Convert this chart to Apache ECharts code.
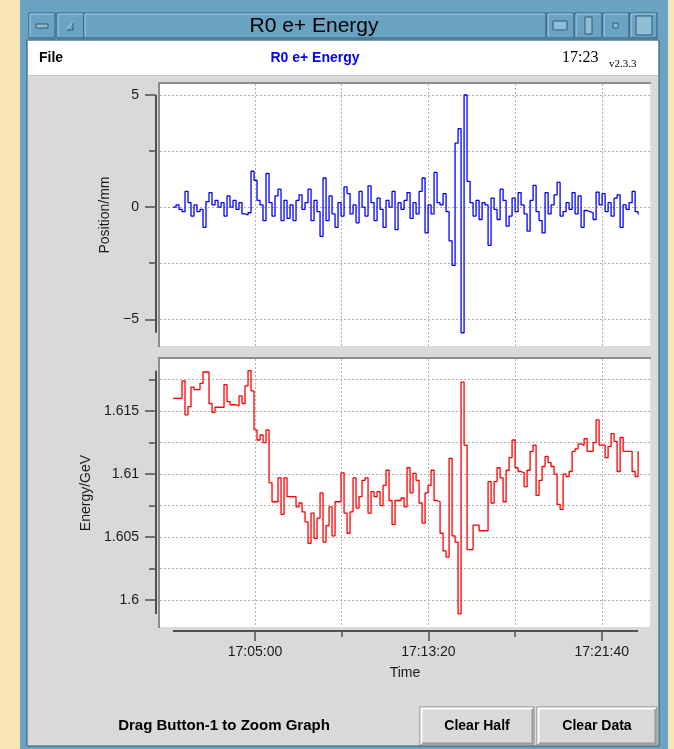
<!DOCTYPE html>
<html><head><meta charset="utf-8">
<script src="https://cdn.jsdelivr.net/npm/echarts@6/dist/echarts.min.js"></script>
<style>html,body{margin:0;padding:0;background:#f7e6b5;}#c{width:674px;height:749px;}</style>
</head><body><div id="c"></div>
<script>
// ---- data (time in seconds after 17:00:00, regular sampling) ----
const T_START = 63.5;
const T_STEP = 8.653;
const positionMM = [
 0.0,0.1,-0.1,-0.2,0.7,0.2,-0.4,0.1,-0.2,-0.1,
 -0.9,0.25,0.65,0.1,0.3,0.0,0.2,-0.4,0.5,0.0,
 0.3,-0.1,0.2,-0.3,-0.35,-0.25,1.6,1.2,0.3,0.1,
 -0.6,1.5,0.2,-0.4,0.5,0.8,-0.6,0.3,-0.5,0.1,
 -0.6,0.3,0.55,-0.1,0.2,0.8,-0.6,0.3,-0.2,-1.3,
 1.3,-0.6,0.5,-0.3,-0.9,0.2,-0.4,0.9,0.6,-0.3,
 0.1,-0.7,0.7,0.0,-0.4,0.95,0.2,-0.6,0.4,-0.1,
 -0.9,0.3,0.0,0.7,-1.0,0.2,-0.1,0.3,0.65,-0.5,
 0.2,-0.3,0.7,1.3,-1.15,0.1,-0.3,1.55,0.2,0.1,
 0.6,-0.2,-1.5,-2.6,2.85,3.5,-5.6,5.0,1.15,0.2,
 -0.4,0.3,-0.55,0.2,0.1,-1.7,0.4,-0.1,-0.55,0.8,
 0.3,-0.85,-0.4,0.4,-0.2,0.65,0.1,-0.3,-1.07,0.3,
 0.97,-0.2,-0.6,-1.15,0.65,-0.3,0.1,0.55,1.1,-0.4,
 -0.2,0.2,-0.1,0.65,-0.3,0.5,-0.9,-0.15,-0.2,-0.25,
 -0.55,0.67,0.1,0.6,-0.2,0.2,-0.4,0.4,0.55,-0.9,
 0.1,-0.1,0.2,0.7,-0.2,-0.33];
const energyGeV = [
 1.6160,1.6160,1.6160,1.6174,1.6147,1.61535,1.6169,1.6167,1.6167,1.6172,
 1.6181,1.6181,1.6156,1.6149,1.6153,1.6153,1.6153,1.6171,1.61575,1.6155,
 1.6155,1.6154,1.6162,1.6156,1.6170,1.6182,1.6166,1.6135,1.6127,1.6131,
 1.6125,1.6135,1.6093,1.6078,1.6078,1.6097,1.6068,1.6097,1.6082,1.6082,
 1.6082,1.6074,1.6077,1.6070,1.6062,1.6045,1.6069,1.6049,1.6065,1.6085,
 1.6046,1.6059,1.6074,1.6051,1.6078,1.6078,1.6101,1.6069,1.6053,1.6070,
 1.6097,1.6073,1.6082,1.6095,1.6097,1.6069,1.6086,1.6082,1.6086,1.6075,
 1.6091,1.6103,1.6079,1.6060,1.6079,1.6079,1.6081,1.6074,1.6105,1.6085,
 1.61005,1.6095,1.6077,1.6061,1.6085,1.6091,1.6103,1.6079,1.6078,1.6053,
 1.6039,1.6034,1.61125,1.6051,1.6046,1.5989,1.6173,1.6123,1.6040,1.6040,
 1.60595,1.60595,1.6055,1.6055,1.6055,1.6094,1.6077,1.6094,1.6105,1.6097,
 1.6078,1.6103,1.6113,1.6127,1.6105,1.6102,1.6101,1.6090,1.6103,1.6118,
 1.6123,1.6083,1.6095,1.6106,1.6114,1.6109,1.6106,1.6100,1.6076,1.6072,
 1.6100,1.6098,1.6102,1.6118,1.6120,1.6124,1.6123,1.6128,1.6118,1.6118,
 1.6125,1.6143,1.6123,1.6123,1.6113,1.6122,1.6132,1.6126,1.6102,1.6129,
 1.6118,1.6118,1.6118,1.6102,1.6098,1.6118];
const timeTicksMajor = [300, 800, 1300];
const timeTicksMinor = [550, 1050];
const posTicksMajor = [-5, 0, 5];
const posTicksMinor = [-2.5, 2.5];
const energyTicksMajor = [1.6, 1.605, 1.61, 1.615];
const energyTicksMinor = [1.6025, 1.6075, 1.6125, 1.6175];

// ---- layout constants ----
const X_MIN = 26, X_MAX = 1439;
const POS_MIN = -6.19, POS_MAX = 5.49;
const EN_MIN = 1.59786, EN_MAX = 1.61913;
const FONT = '"Liberation Sans", Arial, sans-serif';
const AX = '#505050';

function hms(s) {
  const t = 17 * 3600 + Math.round(s);
  const h = Math.floor(t / 3600), m = Math.floor((t % 3600) / 60), sec = t % 60;
  const p = n => (n < 10 ? '0' : '') + n;
  return h + ':' + p(m) + ':' + p(sec);
}
const toXY = arr => arr.map((v, i) => [T_START + i * T_STEP, v]);

const grid = [
  { left: 160, top: 84, width: 490, height: 262 },
  { left: 160, top: 359, width: 490, height: 268 }
];
const splitLine = { show: true, lineStyle: { color: '#b0b0b0', width: 1, type: [2, 2] } };
const labelStyle = { fontSize: 14, color: '#1a1a1a', fontFamily: FONT };

const xAxis = [
  { gridIndex: 0, type: 'value', min: X_MIN, max: X_MAX, position: 'bottom',
    axisLine: { show: false }, axisLabel: { show: false },
    axisTick: { show: false, customValues: timeTicksMajor.concat(timeTicksMinor) },
    splitLine: splitLine },
  { gridIndex: 1, type: 'value', min: X_MIN, max: X_MAX, position: 'bottom', offset: 4,
    axisLine: { show: false },
    axisTick: { show: true, length: 10, customValues: timeTicksMajor, lineStyle: { color: AX, width: 1.5 } },
    axisLabel: Object.assign({ customValues: timeTicksMajor, margin: 14, formatter: v => hms(v) }, labelStyle),
    splitLine: splitLine,
    name: 'Time', nameLocation: 'middle', nameGap: 35,
    nameTextStyle: { fontSize: 14, color: '#1a1a1a', fontFamily: FONT } },
  { gridIndex: 1, type: 'value', min: X_MIN, max: X_MAX, position: 'bottom', offset: 4,
    axisLine: { show: false }, axisLabel: { show: false },
    axisTick: { show: true, length: 6, customValues: timeTicksMinor, lineStyle: { color: AX, width: 1.5 } },
    splitLine: splitLine }
];
const minus = v => String(v).replace('-', '\u2212');
const yAxis = [
  { gridIndex: 0, type: 'value', min: POS_MIN, max: POS_MAX, position: 'left', offset: 4,
    axisLine: { show: false },
    axisTick: { show: true, length: 11, customValues: posTicksMajor, lineStyle: { color: AX, width: 1.5 } },
    axisLabel: Object.assign({ customValues: posTicksMajor, margin: 17, formatter: minus }, labelStyle),
    splitLine: splitLine,
    name: 'Position/mm', nameLocation: 'middle', nameGap: 44, nameRotate: 90,
    nameTextStyle: { fontSize: 14, color: '#1a1a1a', fontFamily: FONT } },
  { gridIndex: 0, type: 'value', min: POS_MIN, max: POS_MAX, position: 'left', offset: 4,
    axisLine: { show: false }, axisLabel: { show: false },
    axisTick: { show: true, length: 7, customValues: posTicksMinor, lineStyle: { color: AX, width: 1.5 } },
    splitLine: splitLine },
  { gridIndex: 1, type: 'value', min: EN_MIN, max: EN_MAX, position: 'left', offset: 4,
    axisLine: { show: false },
    axisTick: { show: true, length: 11, customValues: energyTicksMajor, lineStyle: { color: AX, width: 1.5 } },
    axisLabel: Object.assign({ customValues: energyTicksMajor, margin: 17 }, labelStyle),
    splitLine: splitLine,
    name: 'Energy/GeV', nameLocation: 'middle', nameGap: 63, nameRotate: 90,
    nameTextStyle: { fontSize: 14, color: '#1a1a1a', fontFamily: FONT } },
  { gridIndex: 1, type: 'value', min: EN_MIN, max: EN_MAX, position: 'left', offset: 4,
    axisLine: { show: false }, axisLabel: { show: false },
    axisTick: { show: true, length: 7, customValues: energyTicksMinor, lineStyle: { color: AX, width: 1.5 } },
    splitLine: splitLine }
];

// range-frame axis lines, spanning the data extent
function frame(xIdx, yIdx, values, yMin, drawX) {
  return {
    type: 'custom', xAxisIndex: xIdx, yAxisIndex: yIdx, silent: true, clip: false, z: 5,
    data: [[X_MIN, yMin]],
    renderItem: function (params, api) {
      const lo = Math.min.apply(null, values), hi = Math.max.apply(null, values);
      const a = api.coord([X_MIN, lo]), b = api.coord([X_MIN, hi]);
      const st = { stroke: AX, lineWidth: 2 };
      const ch = [{ type: 'line', shape: { x1: a[0] - 4, y1: a[1], x2: b[0] - 4, y2: b[1] }, style: st }];
      if (drawX) {
        const t1 = T_START + (values.length - 1) * T_STEP;
        const c = api.coord([T_START, yMin]), d = api.coord([t1, yMin]);
        ch.push({ type: 'line', shape: { x1: c[0], y1: c[1] + 4, x2: d[0], y2: d[1] + 4 }, style: st });
      }
      return { type: 'group', children: ch };
    }
  };
}

// ---- window chrome ----
const BLUE = '#6ba3c3', BLUE_D = '#2e5a74', BLUE_L = '#a8d0e6';
function box(x, y, w, h) {
  return [
    { type: 'rect', z: -8, shape: { x: x, y: y, width: w, height: h }, style: { fill: BLUE, stroke: BLUE_D, lineWidth: 1 } },
    { type: 'polyline', z: -7, shape: { points: [[x + 1, y + h - 1], [x + 1, y + 1], [x + w - 1, y + 1]] }, style: { stroke: BLUE_L, lineWidth: 1, fill: null } }
  ];
}
function icon(x, y, w, h) {
  return { type: 'rect', z: -6, shape: { x: x, y: y, width: w, height: h }, style: { fill: '#8fbdd6', stroke: BLUE_D, lineWidth: 1 } };
}
function button(x, y, w, h, label) {
  return [
    { type: 'rect', z: -8, shape: { x: x, y: y, width: w, height: h }, style: { fill: '#d9d9d9', stroke: '#8a8a8a', lineWidth: 1 } },
    { type: 'polyline', z: -7, shape: { points: [[x + 1.5, y + h - 1], [x + 1.5, y + 1.5], [x + w - 1, y + 1.5]] }, style: { stroke: '#ffffff', lineWidth: 2, fill: null } },
    { type: 'polyline', z: -7, shape: { points: [[x + 2, y + h - 1.5], [x + w - 1.5, y + h - 1.5], [x + w - 1.5, y + 2]] }, style: { stroke: '#9a9a9a', lineWidth: 2, fill: null } },
    { type: 'text', z: -6, style: { text: label, x: x + w / 2, y: y + h / 2, align: 'center', verticalAlign: 'middle', textAlign: 'center', textVerticalAlign: 'middle', font: 'bold 14px ' + FONT, fill: '#000' } }
  ];
}
function txt(text, x, y, font, fill, align) {
  return { type: 'text', z: -6, style: { text: text, x: x, y: y, font: font, fill: fill || '#000',
    align: align || 'left', textAlign: align || 'left', verticalAlign: 'middle', textVerticalAlign: 'middle' } };
}

const graphics = [].concat(
  [
    { type: 'rect', z: -20, shape: { x: 20, y: 0, width: 648, height: 749 }, style: { fill: BLUE } },
    { type: 'rect', z: -19, shape: { x: 27, y: 40, width: 632, height: 706 }, style: { fill: '#d9d9d9', stroke: BLUE_D, lineWidth: 1 } },
    { type: 'rect', z: -18, shape: { x: 28, y: 41, width: 630, height: 34 }, style: { fill: '#ffffff' } },
    { type: 'line', z: -18, shape: { x1: 28, y1: 75.5, x2: 658, y2: 75.5 }, style: { stroke: '#c8c8c8', lineWidth: 1 } },
    // plot backgrounds with sunken edges
    { type: 'rect', z: -15, shape: { x: 160, y: 84, width: 490, height: 262 }, style: { fill: '#ffffff' } },
    { type: 'rect', z: -15, shape: { x: 160, y: 359, width: 490, height: 268 }, style: { fill: '#ffffff' } },
    { type: 'polyline', z: -14, shape: { points: [[159, 347], [159, 83], [651, 83]] }, style: { stroke: '#8c8c8c', lineWidth: 2, fill: null } },
    { type: 'polyline', z: -14, shape: { points: [[159, 628], [159, 358], [651, 358]] }, style: { stroke: '#8c8c8c', lineWidth: 2, fill: null } }
  ],
  box(29, 13, 26, 25), box(57, 13, 27, 25), box(84, 13, 462, 25),
  box(547, 13, 27, 25), box(575, 13, 27, 25), box(603, 13, 26, 25), box(630, 13, 27, 25),
  [
    icon(36, 24, 12, 4),
    { type: 'polyline', z: -6, shape: { points: [[73, 22], [73, 30], [66, 30]] }, style: { stroke: BLUE_D, lineWidth: 1, fill: null } },
    { type: 'polyline', z: -6, shape: { points: [[66, 30], [73, 22]] }, style: { stroke: BLUE_L, lineWidth: 1, fill: null } },
    icon(553, 21, 14, 9), icon(585, 17, 7, 17), icon(613, 23, 5, 5), icon(636, 16, 16, 19),
    txt('R0 e+ Energy', 314, 26, '21px ' + FONT, '#000', 'center'),
    txt('File', 39, 58, 'bold 14px ' + FONT, '#000', 'left'),
    txt('R0 e+ Energy', 315, 58, 'bold 14px ' + FONT, '#0000ff', 'center'),
    txt('17:23', 562, 58, '16px "Liberation Serif", serif', '#000', 'left'),
    txt('v2.3.3', 609, 64, '11px "Liberation Serif", serif', '#000', 'left'),
    txt('Drag Button-1 to Zoom Graph', 224, 726, 'bold 15px ' + FONT, '#000', 'center')
  ],
  button(420, 707, 114, 38, 'Clear Half'),
  button(537, 707, 120, 38, 'Clear Data')
);

const chart = echarts.init(document.getElementById('c'), null, { renderer: 'canvas', devicePixelRatio: 1 });
chart.setOption({
  animation: false,
  backgroundColor: '#f7e6b5',
  grid: grid,
  xAxis: xAxis,
  yAxis: yAxis,
  graphic: { elements: graphics },
  series: [
    { type: 'line', xAxisIndex: 0, yAxisIndex: 0, step: 'end', symbol: 'none', z: 3,
      lineStyle: { color: '#0000ff', width: 1.3 }, data: toXY(positionMM) },
    { type: 'line', xAxisIndex: 1, yAxisIndex: 2, step: 'end', symbol: 'none', z: 3,
      lineStyle: { color: '#ff0000', width: 1.3 }, data: toXY(energyGeV) },
    frame(0, 0, positionMM, POS_MIN, false),
    frame(1, 2, energyGeV, EN_MIN, true)
  ]
});
</script>
</body></html>
